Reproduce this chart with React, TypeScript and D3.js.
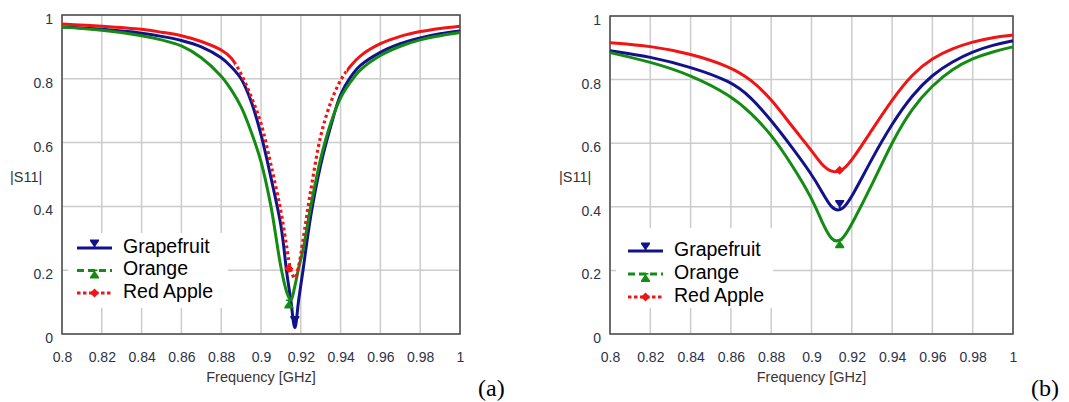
import React, { useEffect, useRef } from "react";
import * as d3 from "d3";

// panel (a)
const freqA = [0.8, 0.82, 0.84, 0.85, 0.86, 0.87, 0.88, 0.885, 0.89, 0.895, 0.9, 0.905, 0.91, 0.913, 0.915, 0.917, 0.919, 0.921, 0.925, 0.93, 0.935, 0.94, 0.945, 0.95, 0.96, 0.97, 0.98, 0.99, 1.0];
const grapefruitA = [0.962, 0.955, 0.943, 0.933, 0.92, 0.9, 0.866, 0.838, 0.8, 0.73, 0.625, 0.49, 0.34, 0.19, 0.105, 0.02, 0.11, 0.195, 0.37, 0.53, 0.65, 0.75, 0.805, 0.842, 0.883, 0.91, 0.928, 0.941, 0.95];
const orangeA = [0.962, 0.952, 0.935, 0.922, 0.903, 0.866, 0.808, 0.766, 0.712, 0.635, 0.54, 0.4, 0.21, 0.13, 0.105, 0.15, 0.21, 0.26, 0.4, 0.55, 0.66, 0.74, 0.79, 0.828, 0.873, 0.902, 0.922, 0.935, 0.945];
const redAppleA = [0.972, 0.965, 0.955, 0.946, 0.935, 0.917, 0.89, 0.865, 0.815, 0.745, 0.66, 0.53, 0.385, 0.27, 0.2, 0.175, 0.215, 0.29, 0.45, 0.62, 0.725, 0.795, 0.84, 0.872, 0.91, 0.933, 0.948, 0.958, 0.965];
const markerFreqA = [0.917, 0.914, 0.914];
const markerValA = [0.03, 0.105, 0.205];

// panel (b)
const freqB = [0.8, 0.82, 0.84, 0.86, 0.87, 0.88, 0.89, 0.9, 0.905, 0.91, 0.915, 0.92, 0.93, 0.94, 0.95, 0.96, 0.97, 0.98, 0.99, 1.0];
const grapefruitB = [0.891, 0.872, 0.84, 0.795, 0.745, 0.672, 0.59, 0.503, 0.45, 0.392, 0.385, 0.43, 0.552, 0.662, 0.752, 0.816, 0.857, 0.888, 0.909, 0.922];
const orangeB = [0.885, 0.856, 0.815, 0.75, 0.695, 0.628, 0.535, 0.43, 0.355, 0.29, 0.29, 0.345, 0.468, 0.605, 0.712, 0.782, 0.834, 0.867, 0.888, 0.903];
const redAppleB = [0.916, 0.906, 0.882, 0.84, 0.8, 0.74, 0.655, 0.578, 0.532, 0.508, 0.51, 0.545, 0.642, 0.737, 0.818, 0.868, 0.898, 0.919, 0.933, 0.94];
const markerFreqB = [0.914, 0.914, 0.914];
const markerValB = [0.395, 0.295, 0.515];

const xTicks = [0.8, 0.82, 0.84, 0.86, 0.88, 0.9, 0.92, 0.94, 0.96, 0.98, 1.0];
const xTickLabels = ["0.8", "0.82", "0.84", "0.86", "0.88", "0.9", "0.92", "0.94", "0.96", "0.98", "1"];
const yTicks = [0, 0.2, 0.4, 0.6, 0.8, 1];
const yTickLabels = ["0", "0.2", "0.4", "0.6", "0.8", "1"];

const seriesNames = ["Grapefruit", "Orange", "Red Apple"];
const panelLabels = ["(a)", "(b)"];

const FONT = "'Liberation Sans', Arial, sans-serif";
const colors = ["#12128a", "#148c14", "#f01414"];
const legendDash = [null, "7,4", "3.5,2.5"];
const markerPaths = [
  "M-4.5,-8.5 H4.5 V-7 L1,-2 V0 H-1 V-2 L-4.5,-7 Z",
  "M-4.5,8 H4.5 V6.5 L1,1.5 V0.5 H3 V-1 H-3 V0.5 H-1 V1.5 L-4.5,6.5 Z",
  "M0,-4.5 L4.5,0 L0,4.5 L-4.5,0 Z",
];

const App = () => {
  const ref = useRef<SVGSVGElement | null>(null);

  useEffect(() => {
    const svg = d3.select(ref.current);
    svg.selectAll("*").remove();

    const panels = [
      {
        left: 62, right: 460, top: 15, bottom: 334,
        freq: freqA, series: [grapefruitA, orangeA, redAppleA],
        mFreq: markerFreqA, mVal: markerValA, curve: d3.curveCatmullRom.alpha(0.5),
        legend: { x: 77, y: 248, step: 22.5, box: [68, 233, 160, 75] },
        yTitleX: 10, labelX: 478, dotted: [0.887, 0.943],
      },
      {
        left: 610, right: 1013, top: 16, bottom: 334,
        freq: freqB, series: [grapefruitB, orangeB, redAppleB],
        mFreq: markerFreqB, mVal: markerValB, curve: d3.curveBasis,
        legend: { x: 628, y: 251, step: 23, box: [616, 228, 157, 80] },
        yTitleX: 559, labelX: 1031, dotted: null,
      },
    ];

    panels.forEach((p, pi) => {
      const x = d3.scaleLinear().domain([0.8, 1]).range([p.left, p.right]);
      const y = d3.scaleLinear().domain([0, 1]).range([p.bottom, p.top]);
      const g = svg.append("g");

      // grid
      g.selectAll(".vgrid").data(xTicks).enter().append("line")
        .attr("x1", d => x(d)).attr("x2", d => x(d))
        .attr("y1", p.top).attr("y2", p.bottom)
        .attr("stroke", "#cccccc").attr("stroke-width", 1.5);
      g.selectAll(".hgrid").data(yTicks).enter().append("line")
        .attr("x1", p.left).attr("x2", p.right)
        .attr("y1", d => y(d)).attr("y2", d => y(d))
        .attr("stroke", "#cccccc").attr("stroke-width", 1.5);

      // legend box hides the grid
      const [bx, by, bw, bh] = p.legend.box;
      g.append("rect").attr("x", bx).attr("y", by).attr("width", bw).attr("height", bh).attr("fill", "white");

      // axes
      const xAxis = d3.axisBottom(x).tickValues(xTicks).tickSize(0).tickPadding(18)
        .tickFormat((d, i) => xTickLabels[i]);
      const yAxis = d3.axisLeft(y).tickValues(yTicks).tickSize(0).tickPadding(9)
        .tickFormat((d, i) => yTickLabels[i]);
      const xg = g.append("g").attr("transform", `translate(0,${p.bottom})`).call(xAxis);
      const yg = g.append("g").attr("transform", `translate(${p.left},0)`).call(yAxis);
      [xg, yg].forEach(a => {
        a.select(".domain").remove();
        a.selectAll("text").attr("font-family", FONT).attr("font-size", 14).attr("fill", "#2c3348");
      });
      yg.selectAll("text").attr("dy", "0.6em");

      // frame
      g.append("rect").attr("x", p.left).attr("y", p.top)
        .attr("width", p.right - p.left).attr("height", p.bottom - p.top)
        .attr("fill", "none").attr("stroke", "#4a4a4a").attr("stroke-width", 1.5);

      // curves
      const line = d3.line<number>()
        .x((d, i) => x(p.freq[i]))
        .y(d => y(d))
        .curve(p.curve);

      p.series.forEach((vals, si) => {
        if (si === 2 && p.dotted) {
          const idSolid = `solid-${pi}`;
          const idDot = `dot-${pi}`;
          const defs = svg.append("defs");
          const cs = defs.append("clipPath").attr("id", idSolid);
          cs.append("rect").attr("x", 0).attr("y", 0).attr("width", x(p.dotted[0])).attr("height", 402);
          cs.append("rect").attr("x", x(p.dotted[1])).attr("y", 0).attr("width", 1069).attr("height", 402);
          defs.append("clipPath").attr("id", idDot).append("rect")
            .attr("x", x(p.dotted[0])).attr("y", 0)
            .attr("width", x(p.dotted[1]) - x(p.dotted[0])).attr("height", 402);
          g.append("path").attr("d", line(vals)).attr("fill", "none")
            .attr("stroke", colors[si]).attr("stroke-width", 3)
            .attr("clip-path", `url(#${idSolid})`);
          g.append("path").attr("d", line(vals)).attr("fill", "none")
            .attr("stroke", colors[si]).attr("stroke-width", 3.2)
            .attr("stroke-dasharray", "3,3")
            .attr("clip-path", `url(#${idDot})`);
        } else {
          g.append("path").attr("d", line(vals)).attr("fill", "none")
            .attr("stroke", colors[si]).attr("stroke-width", 3)
            .attr("stroke-linejoin", "round");
        }
      });

      // markers
      p.mFreq.forEach((f, si) => {
        g.append("path").attr("d", markerPaths[si])
          .attr("transform", `translate(${x(f)},${y(p.mVal[si])})`)
          .attr("fill", colors[si]);
      });

      // legend
      seriesNames.forEach((name, si) => {
        const ly = p.legend.y + si * p.legend.step;
        const l = g.append("line")
          .attr("x1", p.legend.x).attr("x2", p.legend.x + 35)
          .attr("y1", ly).attr("y2", ly)
          .attr("stroke", colors[si]).attr("stroke-width", 3);
        if (legendDash[si]) l.attr("stroke-dasharray", legendDash[si]);
        g.append("path").attr("d", markerPaths[si])
          .attr("transform", `translate(${p.legend.x + 17.5},${ly})`)
          .attr("fill", colors[si]);
        g.append("text")
          .attr("x", p.legend.x + 46).attr("y", ly + 4.5)
          .attr("font-family", FONT).attr("font-size", 19.5).attr("fill", "#000")
          .text(name);
      });

      // titles
      g.append("text").attr("x", (p.left + p.right) / 2).attr("y", 382)
        .attr("text-anchor", "middle").attr("font-family", FONT).attr("font-size", 14.5)
        .attr("fill", "#3a3636").text("Frequency [GHz]");
      g.append("text").attr("x", p.yTitleX).attr("y", 182)
        .attr("font-family", FONT).attr("font-size", 14.5)
        .attr("fill", "#333").text("|S11|");
      g.append("text").attr("x", p.labelX).attr("y", 396)
        .attr("font-family", "'Liberation Serif', 'Times New Roman', serif").attr("font-size", 24)
        .attr("fill", "#000").text(panelLabels[pi]);
    });
  }, []);

  return (
    <svg ref={ref} width={1069} height={402}
      style={{ position: "absolute", left: 0, top: 0, background: "white" }} />
  );
};

export default App;
